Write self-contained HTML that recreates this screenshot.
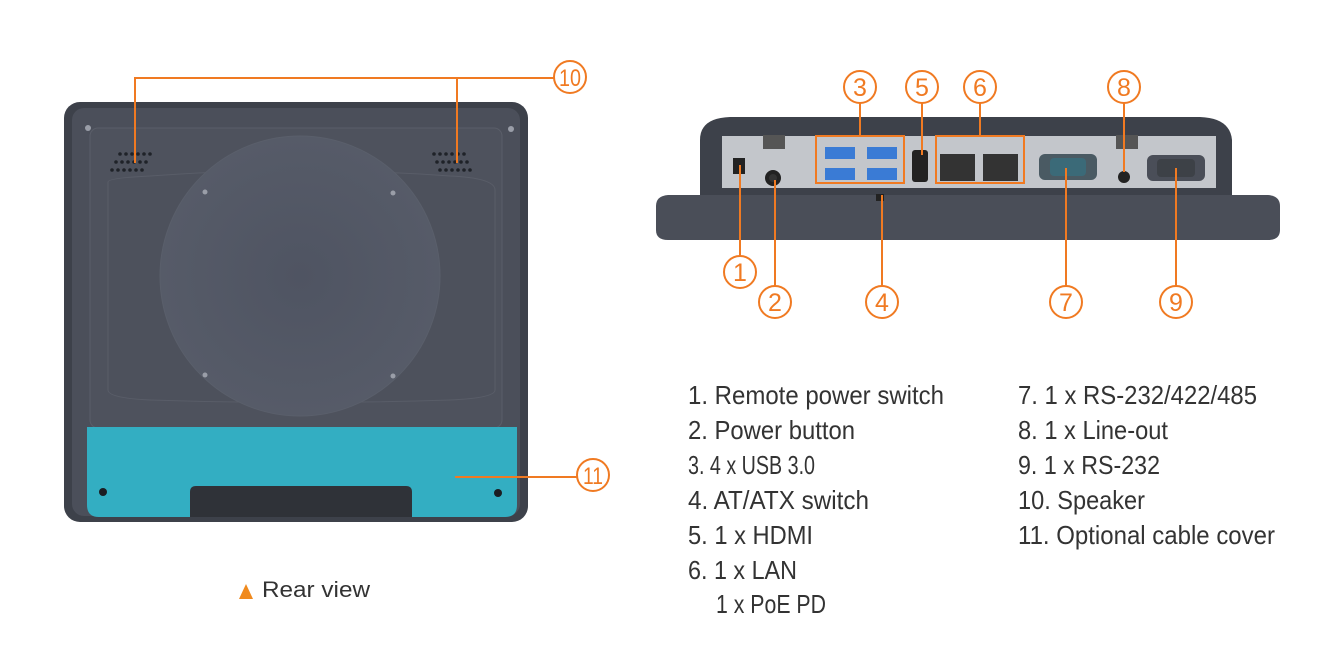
<!DOCTYPE html>
<html><head><meta charset="utf-8"><style>
html,body{margin:0;padding:0;background:#fff;}
svg{display:block}
text{font-family:"Liberation Sans",sans-serif;}
</style></head><body>
<svg width="1341" height="661" viewBox="0 0 1341 661" xmlns="http://www.w3.org/2000/svg">
<defs>
<radialGradient id="cg" cx="0.5" cy="0.5" r="0.5"><stop offset="0" stop-color="#4f5462"/><stop offset="1" stop-color="#565b68"/></radialGradient>
</defs>
<rect x="64" y="102" width="464" height="420" rx="16" fill="#3d414a"/>
<rect x="72" y="108" width="448" height="408" rx="12" fill="#4b4f5a"/>
<rect x="90" y="128" width="412" height="300" rx="8" fill="#4e525d" stroke="#5a5e69" stroke-width="1"/>
<path d="M108 182 Q108 178 150 176 Q300 165 450 176 Q495 178 495 190 L495 390 Q495 398 450 400 Q300 405 150 400 Q108 398 108 390 Z" fill="#4d515c" stroke="#595d68"/>
<circle cx="300" cy="276" r="140" fill="url(#cg)" stroke="#5a5f6b" stroke-width="1"/>
<g fill="#9a9ea8"><circle cx="205" cy="192" r="2.5"/><circle cx="393" cy="193" r="2.5"/><circle cx="205" cy="375" r="2.5"/><circle cx="393" cy="376" r="2.5"/>
<circle cx="88" cy="128" r="3"/><circle cx="511" cy="129" r="3"/></g>
<g fill="#1f2228">
<circle cx="120" cy="154" r="1.8"/><circle cx="126" cy="154" r="1.8"/><circle cx="132" cy="154" r="1.8"/><circle cx="138" cy="154" r="1.8"/><circle cx="144" cy="154" r="1.8"/><circle cx="150" cy="154" r="1.8"/>
<circle cx="116" cy="162" r="1.8"/><circle cx="122" cy="162" r="1.8"/><circle cx="128" cy="162" r="1.8"/><circle cx="134" cy="162" r="1.8"/><circle cx="140" cy="162" r="1.8"/><circle cx="146" cy="162" r="1.8"/>
<circle cx="112" cy="170" r="1.8"/><circle cx="118" cy="170" r="1.8"/><circle cx="124" cy="170" r="1.8"/><circle cx="130" cy="170" r="1.8"/><circle cx="136" cy="170" r="1.8"/><circle cx="142" cy="170" r="1.8"/>
<circle cx="434" cy="154" r="1.8"/><circle cx="440" cy="154" r="1.8"/><circle cx="446" cy="154" r="1.8"/><circle cx="452" cy="154" r="1.8"/><circle cx="458" cy="154" r="1.8"/><circle cx="464" cy="154" r="1.8"/>
<circle cx="437" cy="162" r="1.8"/><circle cx="443" cy="162" r="1.8"/><circle cx="449" cy="162" r="1.8"/><circle cx="455" cy="162" r="1.8"/><circle cx="461" cy="162" r="1.8"/><circle cx="467" cy="162" r="1.8"/>
<circle cx="440" cy="170" r="1.8"/><circle cx="446" cy="170" r="1.8"/><circle cx="452" cy="170" r="1.8"/><circle cx="458" cy="170" r="1.8"/><circle cx="464" cy="170" r="1.8"/><circle cx="470" cy="170" r="1.8"/>
</g>
<path d="M87 427 L517 427 L517 505 Q517 517 505 517 L99 517 Q87 517 87 505 Z" fill="#33aec2"/>
<path d="M190 517 L190 492 Q190 486 196 486 L406 486 Q412 486 412 492 L412 517 Z" fill="#2f3238"/>
<circle cx="103" cy="492" r="4" fill="#1b1d22"/><circle cx="498" cy="493" r="4" fill="#1b1d22"/>
<g stroke="#f07a22" stroke-width="2" fill="none">
<path d="M135 163 L135 78 L457 78 L457 163"/>
<line x1="457" y1="78" x2="555" y2="78"/>
<circle cx="570" cy="77" r="16" fill="#fff"/>
<line x1="455" y1="477" x2="577" y2="477"/>
<circle cx="593" cy="475" r="16" fill="#fff"/>
</g>
<g fill="#f07a22" font-size="24" text-anchor="middle">
<text x="570" y="86" textLength="22" lengthAdjust="spacingAndGlyphs">10</text>
<text x="593" y="484" textLength="20" lengthAdjust="spacingAndGlyphs">11</text>
</g>
<polygon points="239,599 246,584 253,599" fill="#f08a1e"/>
<text x="262" y="597" font-size="22" fill="#333" textLength="108" lengthAdjust="spacingAndGlyphs">Rear view</text>

<path d="M700 140 Q700 118 730 117 L1200 117 Q1230 118 1232 140 L1232 195 L700 195 Z" fill="#3d414a"/>
<path d="M656 206 Q656 196 668 195 L1268 195 Q1280 196 1280 206 L1280 230 Q1280 240 1268 240 L668 240 Q656 240 656 230 Z" fill="#4a4e58"/>
<rect x="722" y="136" width="494" height="52" fill="#c3c6cb"/>
<rect x="763" y="135" width="22" height="14" fill="#555"/>
<rect x="1116" y="135" width="22" height="14" fill="#555"/>
<rect x="733" y="158" width="12" height="16" fill="#222"/>
<circle cx="773" cy="178" r="8" fill="#222"/><circle cx="773" cy="178" r="4" fill="#333"/>
<g fill="#3a7bd5"><rect x="825" y="147" width="30" height="12"/><rect x="867" y="147" width="30" height="12"/><rect x="825" y="168" width="30" height="12"/><rect x="867" y="168" width="30" height="12"/></g>
<rect x="912" y="150" width="16" height="32" rx="3" fill="#222"/>
<rect x="940" y="154" width="35" height="27" fill="#333"/><rect x="983" y="154" width="35" height="27" fill="#333"/>
<rect x="1039" y="154" width="58" height="26" rx="6" fill="#4a5a63"/><rect x="1050" y="158" width="36" height="18" rx="4" fill="#3b6a78"/>
<circle cx="1124" cy="177" r="6" fill="#222"/>
<rect x="1147" y="155" width="58" height="26" rx="6" fill="#4a4e58"/><rect x="1157" y="159" width="38" height="18" rx="4" fill="#3d4147"/>
<rect x="876" y="194" width="8" height="7" fill="#222"/>
<g stroke="#f07a22" stroke-width="2" fill="none">
<rect x="816" y="136" width="88" height="47"/>
<rect x="936" y="136" width="88" height="47"/>
<line x1="860" y1="103" x2="860" y2="136"/>
<line x1="922" y1="103" x2="922" y2="155"/>
<line x1="980" y1="103" x2="980" y2="136"/>
<line x1="1124" y1="103" x2="1124" y2="172"/>
<line x1="740" y1="165" x2="740" y2="256"/>
<line x1="775" y1="180" x2="775" y2="286"/>
<line x1="882" y1="195" x2="882" y2="286"/>
<line x1="1066" y1="168" x2="1066" y2="286"/>
<line x1="1176" y1="168" x2="1176" y2="286"/>
<circle cx="860" cy="87" r="16" fill="#fff"/>
<circle cx="922" cy="87" r="16" fill="#fff"/>
<circle cx="980" cy="87" r="16" fill="#fff"/>
<circle cx="1124" cy="87" r="16" fill="#fff"/>
<circle cx="740" cy="272" r="16" fill="#fff"/>
<circle cx="775" cy="302" r="16" fill="#fff"/>
<circle cx="882" cy="302" r="16" fill="#fff"/>
<circle cx="1066" cy="302" r="16" fill="#fff"/>
<circle cx="1176" cy="302" r="16" fill="#fff"/>
</g>
<g fill="#f07a22" font-size="25" text-anchor="middle">
<text x="860" y="96">3</text><text x="922" y="96">5</text><text x="980" y="96">6</text><text x="1124" y="96">8</text>
<text x="740" y="281">1</text><text x="775" y="311">2</text><text x="882" y="311">4</text><text x="1066" y="311">7</text><text x="1176" y="311">9</text>
</g>
<g fill="#333" font-size="26">
<text x="688" y="404" textLength="256" lengthAdjust="spacingAndGlyphs">1. Remote power switch</text>
<text x="688" y="439" textLength="167" lengthAdjust="spacingAndGlyphs">2. Power button</text>
<text x="688" y="474" textLength="127" lengthAdjust="spacingAndGlyphs">3. 4 x USB 3.0</text>
<text x="688" y="509" textLength="181" lengthAdjust="spacingAndGlyphs">4. AT/ATX switch</text>
<text x="688" y="544" textLength="125" lengthAdjust="spacingAndGlyphs">5. 1 x HDMI</text>
<text x="688" y="579" textLength="109" lengthAdjust="spacingAndGlyphs">6. 1 x LAN</text>
<text x="716" y="613" textLength="110" lengthAdjust="spacingAndGlyphs">1 x PoE PD</text>
<text x="1018" y="404" textLength="239" lengthAdjust="spacingAndGlyphs">7. 1 x RS-232/422/485</text>
<text x="1018" y="439" textLength="150" lengthAdjust="spacingAndGlyphs">8. 1 x Line-out</text>
<text x="1018" y="474" textLength="142" lengthAdjust="spacingAndGlyphs">9. 1 x RS-232</text>
<text x="1018" y="509" textLength="127" lengthAdjust="spacingAndGlyphs">10. Speaker</text>
<text x="1018" y="544" textLength="257" lengthAdjust="spacingAndGlyphs">11. Optional cable cover</text>
</g>
</svg>
</body></html>
